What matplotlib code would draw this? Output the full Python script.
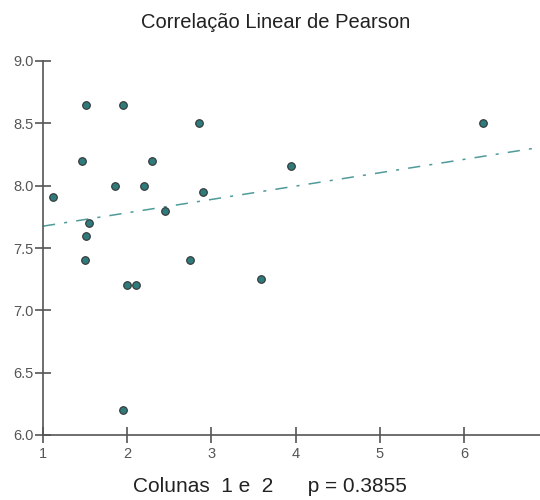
import numpy as np
import matplotlib
matplotlib.use('Agg')
import matplotlib.pyplot as plt

plt.rcParams['font.family'] = ['Liberation Sans', 'DejaVu Sans']

col1 = [1.12, 1.51, 1.46, 1.95, 1.85, 2.20, 2.29, 2.85, 2.90, 2.45,
        1.55, 1.51, 1.50, 2.75, 2.00, 2.10, 3.59, 3.94, 6.22, 1.95]
col2 = [7.91, 8.65, 8.20, 8.65, 8.00, 8.00, 8.20, 8.50, 7.95, 7.80,
        7.70, 7.60, 7.40, 7.40, 7.20, 7.20, 7.25, 8.16, 8.50, 6.20]

xticks = [1, 2, 3, 4, 5, 6]
yticks = [6.0, 6.5, 7.0, 7.5, 8.0, 8.5, 9.0]

x = np.array(col1)
y = np.array(col2)
slope, intercept = np.polyfit(x, y, 1)

fig = plt.figure(figsize=(5.4, 5.0), dpi=100)
ax = fig.add_axes([43/540, 65/500, 497/540, 374/500])

xl = np.array([1, 6.9])
ax.plot(xl, intercept + slope*xl, color='#4f9a9a', lw=1.1,
        linestyle=(0, (8, 6, 2, 6)))
ax.scatter(x, y, s=30, c='#2f7b7b', edgecolors='#333333',
           linewidths=0.8, zorder=3)

ax.set_xlim(1, 6.9)
ax.set_ylim(6.0, 9.0)
ax.set_xticks(xticks)
ax.set_yticks(yticks)
ax.set_xticklabels([str(t) for t in xticks])
ax.set_yticklabels(['%.1f' % t for t in yticks])
for s in ['top', 'right']:
    ax.spines[s].set_visible(False)
for s in ['left', 'bottom']:
    ax.spines[s].set_color('#555555')
    ax.spines[s].set_linewidth(1.2)
ax.tick_params(direction='inout', length=12, width=1.2, color='#555555',
               labelsize=10.5, labelcolor='#555555', pad=1)
ax.tick_params(axis='x', pad=3)

fig.text(0.51, 0.954, 'Correlação Linear de Pearson', ha='center',
         va='center', fontsize=14.5, color='#222222')
fig.text(0.5, 0.027, 'Colunas  1 e  2      p = %.4f' % 0.3855, ha='center',
         va='center', fontsize=15, color='#222222')

fig.savefig('out.png', dpi=100, facecolor='white')
